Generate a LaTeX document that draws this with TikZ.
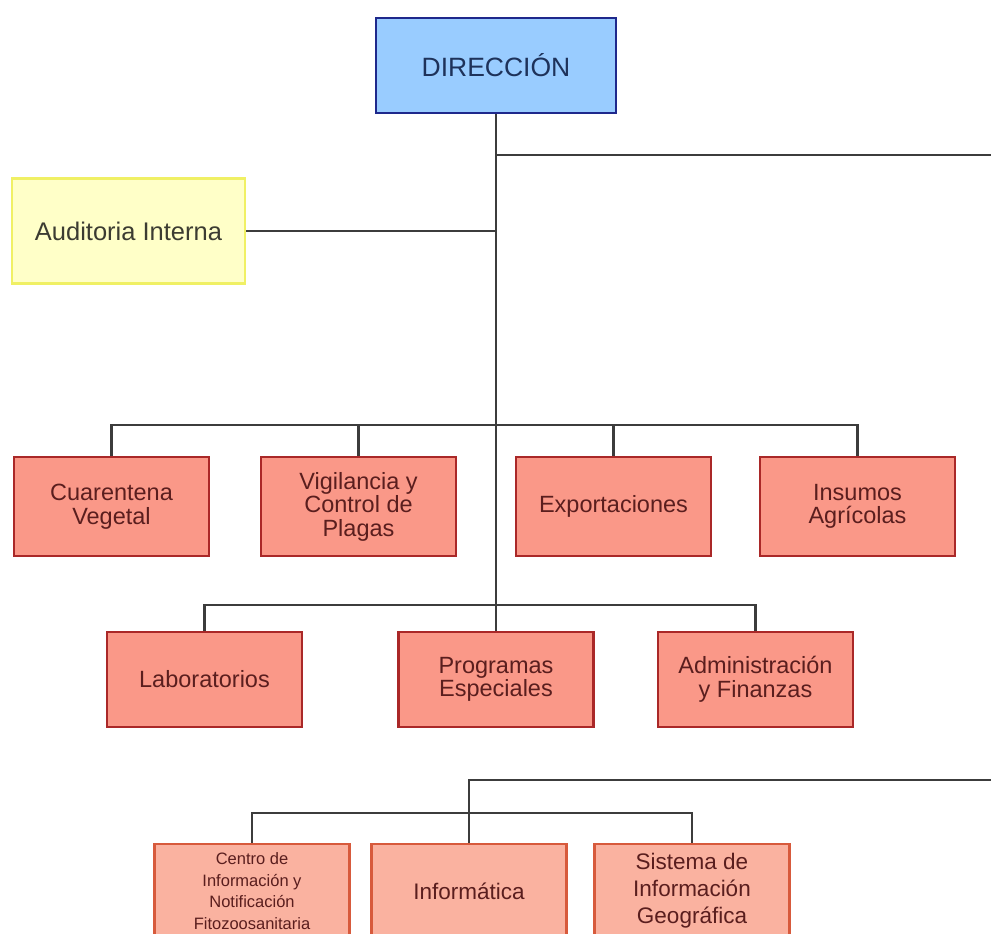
\documentclass[tikz,border=0pt]{standalone}
\usepackage{fontspec}
\setmainfont{Liberation Sans}
\definecolor{dirfill}{RGB}{153,204,255}
\definecolor{dirdraw}{RGB}{30,40,140}
\definecolor{dirtext}{RGB}{30,50,90}
\definecolor{audfill}{RGB}{255,255,200}
\definecolor{auddraw}{RGB}{240,240,100}
\definecolor{audtext}{RGB}{60,60,50}
\definecolor{redfill}{RGB}{250,152,136}
\definecolor{reddraw}{RGB}{170,40,40}
\definecolor{redtext}{RGB}{90,30,30}
\definecolor{pinkfill}{RGB}{250,178,160}
\definecolor{pinkdraw}{RGB}{215,90,60}
\definecolor{linec}{RGB}{60,60,60}
\begin{document}
\begin{tikzpicture}[x=1pt,y=-1pt,
  box/.style={draw, line width=2.8pt, align=center, inner sep=0pt},
  dirbox/.style={box, fill=dirfill, draw=dirdraw, text=dirtext, minimum width=240pt, minimum height=95pt, font=\fontsize{26.5}{28}\selectfont},
  audbox/.style={box, fill=audfill, draw=auddraw, text=audtext, minimum width=233pt, minimum height=105pt, font=\fontsize{25.5}{27}\selectfont},
  redbox/.style={box, fill=redfill, draw=reddraw, text=redtext, minimum width=195pt, font=\fontsize{23.5}{23.5}\selectfont},
  pinkbox/.style={box, fill=pinkfill, draw=pinkdraw, text=redtext, minimum width=195pt, minimum height=94pt, font=\fontsize{22.5}{27}\selectfont},
  conn/.style={draw=linec, line width=2.2pt}]
\useasboundingbox (0,0) rectangle (991,934);
\fill[white] (0,0) rectangle (991,934);
\clip (0,0) rectangle (991,934);

\node[dirbox] (dir) at (496,65.5) {DIRECCIÓN};
\node[audbox] (aud) at (128.5,231) {Auditoria Interna};

\node[redbox, minimum height=99pt] (cua) at (111.5,506.5) {Cuarentena\\Vegetal};
\node[redbox, minimum height=99pt] (vig) at (358.5,506.5) {Vigilancia y\\Control de\\Plagas};
\node[redbox, minimum height=99pt] (exp) at (613.5,506.5) {Exportaciones};
\node[redbox, minimum height=99pt] (ins) at (857.5,506.5) {Insumos\\Agrícolas};

\node[redbox, minimum height=95pt] (lab) at (204.5,679.5) {Laboratorios};
\node[redbox, minimum height=95pt] (pro) at (496,679.5) {Programas\\Especiales};
\node[redbox, minimum height=95pt] (adm) at (755.5,679.5) {Administración\\y Finanzas};

\node[pinkbox, font=\fontsize{16.5}{21.5}\selectfont] (cen) at (252,891) {Centro de\\Información y\\Notificación\\Fitozoosanitaria};
\node[pinkbox] (inf) at (469,891) {Informática};
\node[pinkbox] (sig) at (692,891) {Sistema de\\Información\\Geográfica};

\coordinate (r1) at (991,155);
\coordinate (b1) at (496,425);
\coordinate (b2) at (496,605);
\coordinate (r2) at (991,780);
\coordinate (b3) at (469,813);

\draw[conn] (dir.south) -- (pro.north);
\draw[conn] (dir.south |- r1) -- (r1);
\draw[conn] (aud.east) -- (aud.east -| dir.south);

\draw[conn] (cua.north) -- (cua.north |- b1) -- (ins.north |- b1) -- (ins.north);
\draw[conn] (vig.north) -- (vig.north |- b1);
\draw[conn] (exp.north) -- (exp.north |- b1);

\draw[conn] (lab.north) -- (lab.north |- b2) -- (adm.north |- b2) -- (adm.north);

\draw[conn] (r2) -- (inf.north |- r2) -- (inf.north);
\draw[conn] (cen.north) -- (cen.north |- b3) -- (sig.north |- b3) -- (sig.north);
\end{tikzpicture}
\end{document}
